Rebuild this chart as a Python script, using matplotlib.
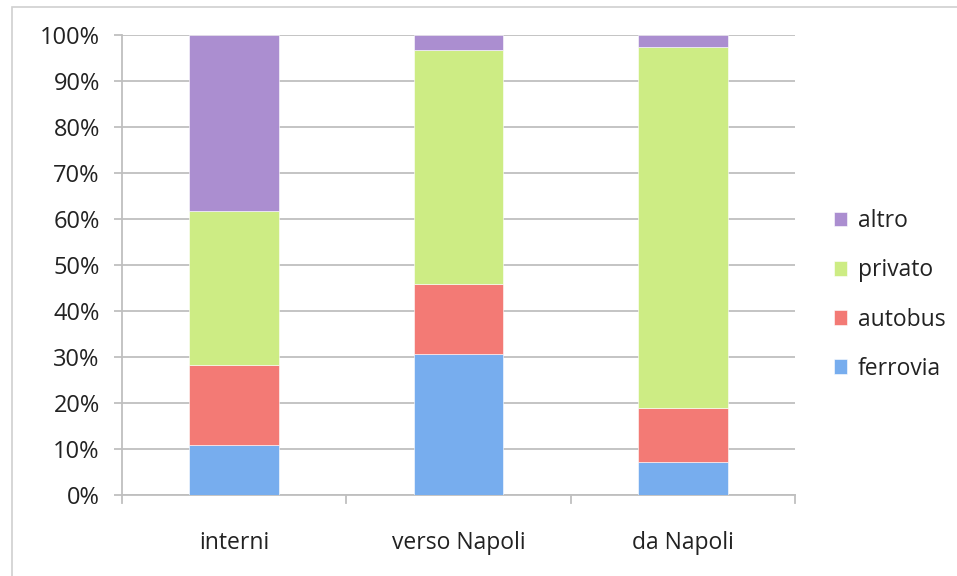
import matplotlib
matplotlib.use("Agg")
import matplotlib.pyplot as plt
from matplotlib.patches import Rectangle
from matplotlib.ticker import FuncFormatter, MultipleLocator

categories = ["interni", "verso Napoli", "da Napoli"]
ferrovia = [10.9, 30.6, 7.1]
autobus = [17.4, 15.2, 11.8]
privato = [33.5, 50.9, 78.5]
altro = [38.2, 3.3, 2.6]

series = [("ferrovia", ferrovia, "#77ADEE"),
          ("autobus", autobus, "#F37A75"),
          ("privato", privato, "#CDEC84"),
          ("altro", altro, "#AB8ED0")]

plt.rcParams['font.family'] = ['Open Sans', 'DejaVu Sans']

W, H = 957, 576
fig = plt.figure(figsize=(W / 100, H / 100), dpi=100)
ax = fig.add_axes([122 / W, 1 - 495 / H, (795 - 122) / W, (495 - 35) / H])

x = list(range(len(categories)))
bottoms = [0.0] * len(categories)
handles = []
for name, vals, col in series:
    b = ax.bar(x, vals, width=0.4, bottom=bottoms, color=col, label=name,
               edgecolor='white', linewidth=0.4, zorder=3)
    handles.append(b)
    bottoms = [bo + v for bo, v in zip(bottoms, vals)]

ax.set_xlim(-0.5, len(categories) - 0.5)
ax.set_ylim(0, 100)
ax.yaxis.set_major_locator(MultipleLocator(10))
ax.yaxis.set_major_formatter(FuncFormatter(lambda v, p: f"{int(round(v))}%"))
ax.grid(axis='y', color='#BFBFBF', linewidth=1.3, zorder=0)
ax.set_axisbelow(True)

for s in ['top', 'right']:
    ax.spines[s].set_visible(False)
for s in ['left', 'bottom']:
    ax.spines[s].set_color('#BFBFBF')
    ax.spines[s].set_linewidth(1.3)

ax.set_xticks(x)
ax.set_xticklabels(categories, fontsize=16.5, color='#222222')
ax.tick_params(axis='x', length=0, pad=26)
# category separator tick marks
for xv in [-0.5, 0.5, 1.5, 2.5]:
    ax.plot([xv, xv], [0, -0.018], transform=ax.get_xaxis_transform(),
            color='#BFBFBF', linewidth=1.3, clip_on=False)
ax.tick_params(axis='y', length=6, width=1.3, color='#BFBFBF',
               labelsize=17, labelcolor='#222222', pad=10)

leg = fig.legend(handles[::-1], [s[0] for s in series][::-1],
                 loc='center left', bbox_to_anchor=(813 / W, 1 - 295 / H),
                 frameon=False, fontsize=16.5, handlelength=0.6,
                 handleheight=0.6, handletextpad=0.45, labelspacing=1.1)
for t in leg.get_texts():
    t.set_color('#222222')

# outer chart border
fig.add_artist(Rectangle((12 / W, -0.01), 1.0, 1 - 7 / H + 0.01,
                         transform=fig.transFigure, fill=False,
                         edgecolor='#D0D0D0', linewidth=1.2))

fig.savefig("out.png", dpi=100)
